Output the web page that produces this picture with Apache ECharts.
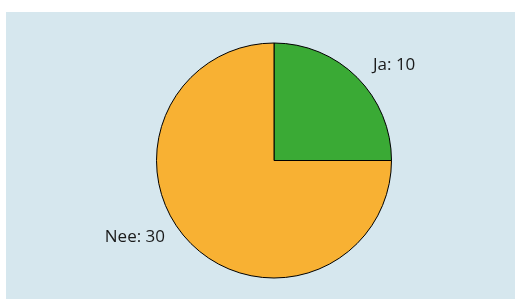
<!DOCTYPE html>
<html>
<head>
<meta charset="utf-8">
<style>
  html, body { margin: 0; padding: 0; background: #fff; }
  #chart { width: 515px; height: 299px; }
</style>
<script src="https://cdn.jsdelivr.net/npm/echarts@6/dist/echarts.min.js"></script>
</head>
<body>
<div id="chart"></div>
<script>
// categories and values
const categories = ['Ja', 'Nee']
const values = [10, 30]
const colors = ['#3aaa35', '#f8b133']

const chart = echarts.init(document.getElementById('chart'))

const option = {
  animation: false,
  graphic: [
    {
      type: 'rect',
      z: -10,
      silent: true,
      shape: { x: 6, y: 12, width: 509, height: 287 },
      style: { fill: '#d6e7ee' }
    }
  ],
  series: [
    {
      type: 'pie',
      center: [274, 160.5],
      radius: 117.5,
      startAngle: 90,
      clockwise: true,
      itemStyle: {
        borderColor: '#000',
        borderWidth: 1
      },
      label: {
        show: true,
        position: 'outside',
        formatter: '{b}: {c}',
        color: '#1a1a1a',
        fontFamily: 'Open Sans',
        fontSize: 17
      },
      labelLine: { show: false },
      labelLayout: (p) => p.dataIndex === 0
        ? { x: 373, y: 65, align: 'left', verticalAlign: 'middle' }
        : { x: 165, y: 237, align: 'right', verticalAlign: 'middle' },
      emphasis: { disabled: true },
      data: categories.map((name, i) => ({
        name: name,
        value: values[i],
        itemStyle: { color: colors[i] }
      }))
    }
  ]
}

chart.setOption(option)
</script>
</body>
</html>
